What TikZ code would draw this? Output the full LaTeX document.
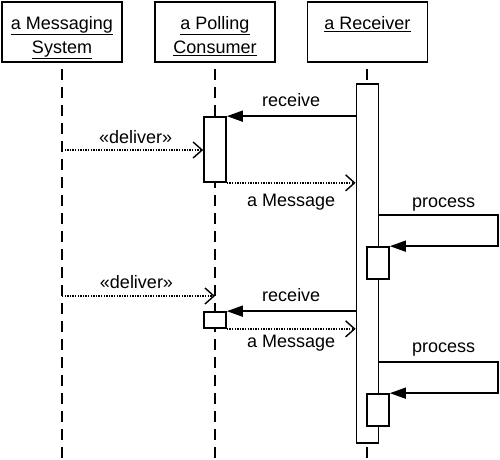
\documentclass[tikz,border=0pt]{standalone}
\usepackage{fontspec}
\setmainfont{Liberation Sans}
\usetikzlibrary{arrows.meta}
\begin{document}
\begin{tikzpicture}[x=1pt,y=-1pt,
  font=\fontsize{18}{24}\selectfont,
  objbox/.style={draw,line width=1.8pt,minimum width=120pt,minimum height=60pt,inner sep=0pt},
  objlbl/.style={anchor=north,align=center,inner sep=0pt},
  lifeline/.style={line width=1.7pt,dash pattern=on 11pt off 7pt,dash phase=12pt},
  actbox/.style={draw,fill=white,line width=1.7pt,minimum width=22pt,inner sep=0pt},
  callmsg/.style={line width=1.6pt,-{Triangle[length=16pt,width=11pt]}},
  asyncmsg/.style={line width=1.6pt,dash pattern=on 1.3pt off 1.3pt,-{Straight Barb[length=9pt,width=16pt,line width=1.4pt]}},
  msglbl/.style={anchor=base,inner sep=0pt}]
\useasboundingbox (0,0) rectangle (500,459);

% object boxes
\node[objbox] (ms) at (62,32) {};
\node[objbox] (pc) at (215,32) {};
\node[objbox] (rc) at (367.5,32) {};
\node[objlbl] (mst) at (62,16) {\underline{a Messaging}\\\underline{System}};
\node[objlbl] (pct) at (215,16) {\underline{a Polling}\\\underline{Consumer}};
\node[objlbl] (rct) at (367.5,16) {\underline{a Receiver}};

% lifeline ends
\coordinate (msb) at (62,459);
\coordinate (pcb) at (215,459);
\coordinate (rcb) at (367,459);
\draw[lifeline] (ms.south) -- (msb);
\draw[lifeline] (pc.south) -- (pcb);
\draw[lifeline] (rc.south -| rcb) -- (rcb);

% activations
\node[actbox,minimum width=22pt,minimum height=359pt] (rcv) at (367.5,263.5) {};
\node[actbox,minimum height=65pt] (act1) at (215,149.5) {};
\node[actbox,minimum height=16pt] (act2) at (215,320) {};
\node[actbox,minimum height=32pt] (n1) at (378,263) {};
\node[actbox,minimum height=32pt] (n2) at (378,410) {};

% coordinates for message heights
\coordinate (d1) at (62,150);
\coordinate (d2) at (215,296);
\coordinate (p1) at (498,215);
\coordinate (p2) at (498,362);

% first cycle
\draw[callmsg] (rcv.west |- act1.north east) -- node[msglbl,yshift=10pt] (rl1) {receive} (act1.north east);
\draw[asyncmsg] (d1) -- node[msglbl,yshift=7pt,xshift=3pt] (dl1) {«deliver»} (act1.west |- d1);
\draw[asyncmsg] (act1.south east) -- node[msglbl,yshift=-24pt] (ml1) {a Message} (rcv.west |- act1.south east);
\draw[callmsg] (rcv.east |- p1) -- node[msglbl,yshift=8pt,xshift=5pt] (pl1) {process} (p1) -- (p1 |- n1.north east) -- (n1.north east);

% second cycle
\draw[asyncmsg] (msb |- d2) -- node[msglbl,yshift=8pt,xshift=-2pt] (dl2) {«deliver»} (d2);
\draw[callmsg] (rcv.west |- act2.north east) -- node[msglbl,yshift=10pt] (rl2) {receive} (act2.north east);
\draw[asyncmsg] (act2.south east) -- node[msglbl,yshift=-19pt] (ml2) {a Message} (rcv.west |- act2.south east);
\draw[callmsg] (rcv.east |- p2) -- node[msglbl,yshift=10pt,xshift=5pt] (pl2) {process} (p2) -- (p2 |- n2.north east) -- (n2.north east);
\end{tikzpicture}
\end{document}
